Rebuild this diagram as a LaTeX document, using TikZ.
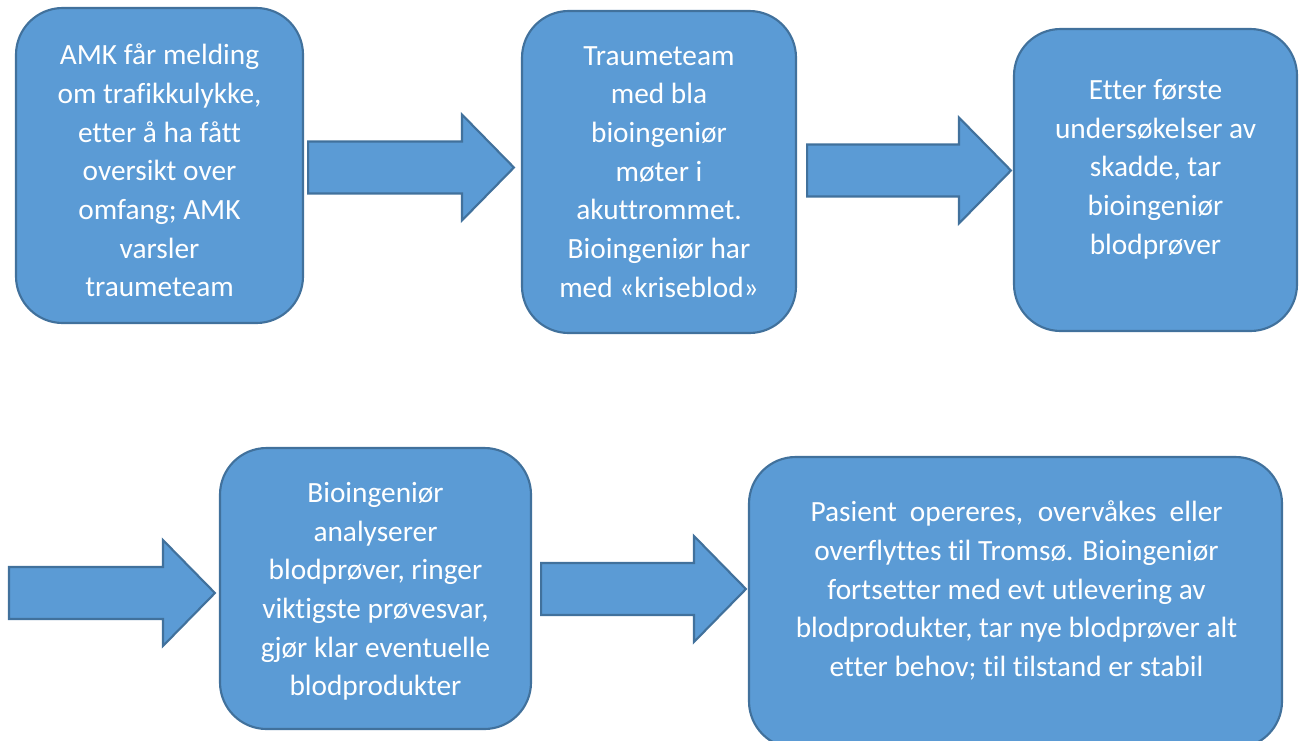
\documentclass[tikz,border=0pt]{standalone}
\usepackage{fontspec}
\setmainfont{Carlito}[Ligatures=NoCommon]
\usetikzlibrary{calc,fit}
\definecolor{boxfill}{HTML}{5B9BD5}
\definecolor{boxline}{HTML}{41719C}
\tikzset{
  stepbox/.style={draw=boxline, fill=boxfill, line width=1.6pt,
    rounded corners=35pt, inner sep=0pt},
  steptext/.style={text=white, align=center, inner sep=0pt,
    font=\fontsize{22}{29}\selectfont},
  flowarrow/.style={draw=boxline, fill=boxfill, line width=1.6pt, line join=miter},
}
% block arrow from a tail point #1 to a tip point #2 on the same height
\newcommand\blockarrow[2]{%
  \draw[flowarrow] ($(#1)+(0,-26)$) -- ($(#2)+(-52,-26)$) -- ($(#2)+(-52,-53)$)
    -- (#2) -- ($(#2)+(-52,53)$) -- ($(#2)+(-52,26)$) -- ($(#1)+(0,26)$) -- cycle;}
\begin{document}
\begin{tikzpicture}[x=0.75pt,y=-0.75pt]
\useasboundingbox (0,0) rectangle (1301,740);

% process steps
\node[stepbox, fit={(16,8) (303,323)}] (b1) {};
\node[stepbox, fit={(522,11) (796,333)}] (b2) {};
\node[stepbox, fit={(1014,29) (1297,331)}] (b3) {};
\node[stepbox, fit={(220,448) (531,729)}] (b4) {};
\node[stepbox, fit={(749,457) (1282,748)}] (b5) {};

\node[steptext] (t1) at ($(b1.center)+(0,5)$)
  {AMK får melding\\om trafikkulykke,\\etter å ha fått\\oversikt over\\omfang; AMK\\varsler\\traumeteam};
\node[steptext] (t2) at ($(b2.center)+(0,0)$)
  {Traumeteam\\med bla\\bioingeniør\\møter i\\akuttrommet.\\Bioingeniør har\\med «kriseblod»};
\node[steptext] (t3) at ($(b3.center)+(0,-11)$)
  {Etter første\\undersøkelser av\\skadde, tar\\bioingeniør\\blodprøver};
\node[steptext] (t4) at ($(b4.center)+(0,3)$)
  {Bioingeniør\\analyserer\\blodprøver, ringer\\viktigste prøvesvar,\\gjør klar eventuelle\\blodprodukter};
\node[steptext] (t5) at ($(b5.center)+(1,-12)$)
  {\makebox[309pt][s]{Pasient opereres, overvåkes eller}\\overflyttes til Tromsø. Bioingeniør\\fortsetter med evt utlevering av\\blodprodukter, tar nye blodprøver alt\\etter behov; til tilstand er stabil};

% arrows between the steps
\coordinate (a1s) at ($(b1.east)+(4,2)$);
\coordinate (a1e) at ($(a1s -| b2.west)+(-7,0)$);
\blockarrow{a1s}{a1e}

\coordinate (a2s) at ($(b2.east)+(10,-1.5)$);
\coordinate (a2e) at ($(a2s -| b3.west)+(-2,0)$);
\blockarrow{a2s}{a2e}

\coordinate (a3s) at (9,593);
\coordinate (a3e) at ($(a3s -| b4.west)+(-4,0)$);
\blockarrow{a3s}{a3e}

\coordinate (a4s) at ($(b4.east)+(9,0.5)$);
\coordinate (a4e) at ($(a4s -| b5.west)+(-2,0)$);
\blockarrow{a4s}{a4e}
\end{tikzpicture}
\end{document}
